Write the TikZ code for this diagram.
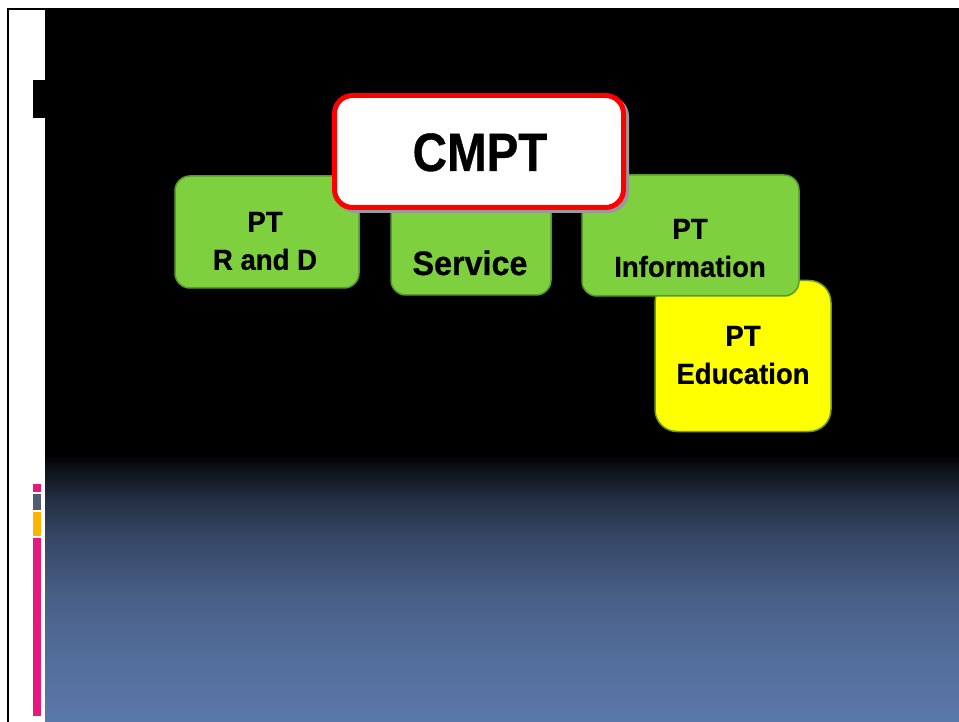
\documentclass[tikz,border=0pt]{standalone}
\usepackage{fontspec}
\setmainfont{Liberation Sans}[FakeStretch=0.95, BoldFeatures={FakeBold=0.6}]
\newfontfamily\titlefont{Liberation Sans}[FakeStretch=0.88, BoldFeatures={FakeBold=0.6}]
\usetikzlibrary{calc}

\definecolor{boxgreen}{HTML}{7ED03E}
\definecolor{boxgreenline}{HTML}{5A9A2C}
\definecolor{boxyellow}{HTML}{FFFF00}
\definecolor{boxyellowline}{HTML}{6A9A30}
\definecolor{deepblue}{HTML}{5B78AA}
\definecolor{barpink}{HTML}{E8177D}
\definecolor{bargray}{HTML}{4F5B70}
\definecolor{barorange}{HTML}{FFB500}

% night-to-slate fade for the lower part of the slide
\pgfdeclareverticalshading{skyfade}{100bp}{
  color(0bp)=(deepblue);
  color(25bp)=(deepblue);
  color(38.5bp)=(deepblue!90!black);
  color(48bp)=(deepblue!80!black);
  color(59bp)=(deepblue!60!black);
  color(66.5bp)=(deepblue!40!black);
  color(72bp)=(deepblue!16!black);
  color(75bp)=(black);
  color(100bp)=(black)}

\tikzset{
  unitbox/.style={rectangle, rounded corners=15pt, inner sep=0pt,
    fill=boxgreen, draw=boxgreenline, line width=1.5pt},
  yellowbox/.style={unitbox, rounded corners=22pt, fill=boxyellow, draw=boxyellowline},
  headbox/.style={rectangle, rounded corners=18pt, inner sep=0pt,
    fill=white, draw=red, line width=5pt},
  headshadow/.style={rectangle, rounded corners=18pt, inner sep=0pt,
    fill=gray!80, draw=gray!80, line width=5pt},
  unittext/.style={align=center, inner sep=0pt, text=black,
    font=\bfseries\fontsize{29}{38}\selectfont},
  bigtext/.style={inner sep=0pt, text=black, font=\bfseries\fontsize{34}{40}\selectfont},
  headtext/.style={inner sep=0pt, text=black, font=\titlefont\bfseries\fontsize{54}{60}\selectfont}
}

\begin{document}
\begin{tikzpicture}[x=1pt, y=-1pt]
\useasboundingbox (0,0) rectangle (959,722);

% page frame and side panel
\fill[white] (0,0) rectangle (959,722);
\fill[black] (7,8) rectangle (959,722);
\fill[white] (9,10) rectangle (45,722);
\shade[shading=skyfade] (45,455) rectangle (959,722);
\fill[black] (33,80) rectangle (45,118);

% accent bars
\fill[barpink]   (33,484) rectangle (41,492);
\fill[bargray]   (33,494) rectangle (41,510);
\fill[barorange] (33,512) rectangle (41,536);
\fill[barpink]   (33,538) rectangle (41,716);

% units
\node[unitbox, minimum width=184pt, minimum height=112pt] (rnd) at (267,232) {};
\node[unittext] (rndtext) at (265,241) {PT\\R and D};

\node[unitbox, minimum width=160pt, minimum height=119pt] (svc) at (471,235.5) {};
\node[bigtext, anchor=base] (svctext) at (470,275) {Service};

\node[yellowbox, minimum width=176pt, minimum height=151pt] (edu) at (743,356) {};
\node[unittext] (edutext) at (743,355) {PT\\Education};

\node[unitbox, minimum width=217pt, minimum height=121pt] (info) at (690.5,235.5) {};
\node[unittext] (infotext) at (690,248) {PT\\Information};

% head unit
\node[headshadow, minimum width=289pt, minimum height=112pt] (headsh) at (482,154.5) {};
\node[headbox, minimum width=289pt, minimum height=112pt] (head) at (479,151.5) {};
\node[headtext, anchor=base] (headtext) at (480,171) {CMPT};
\end{tikzpicture}
\end{document}
